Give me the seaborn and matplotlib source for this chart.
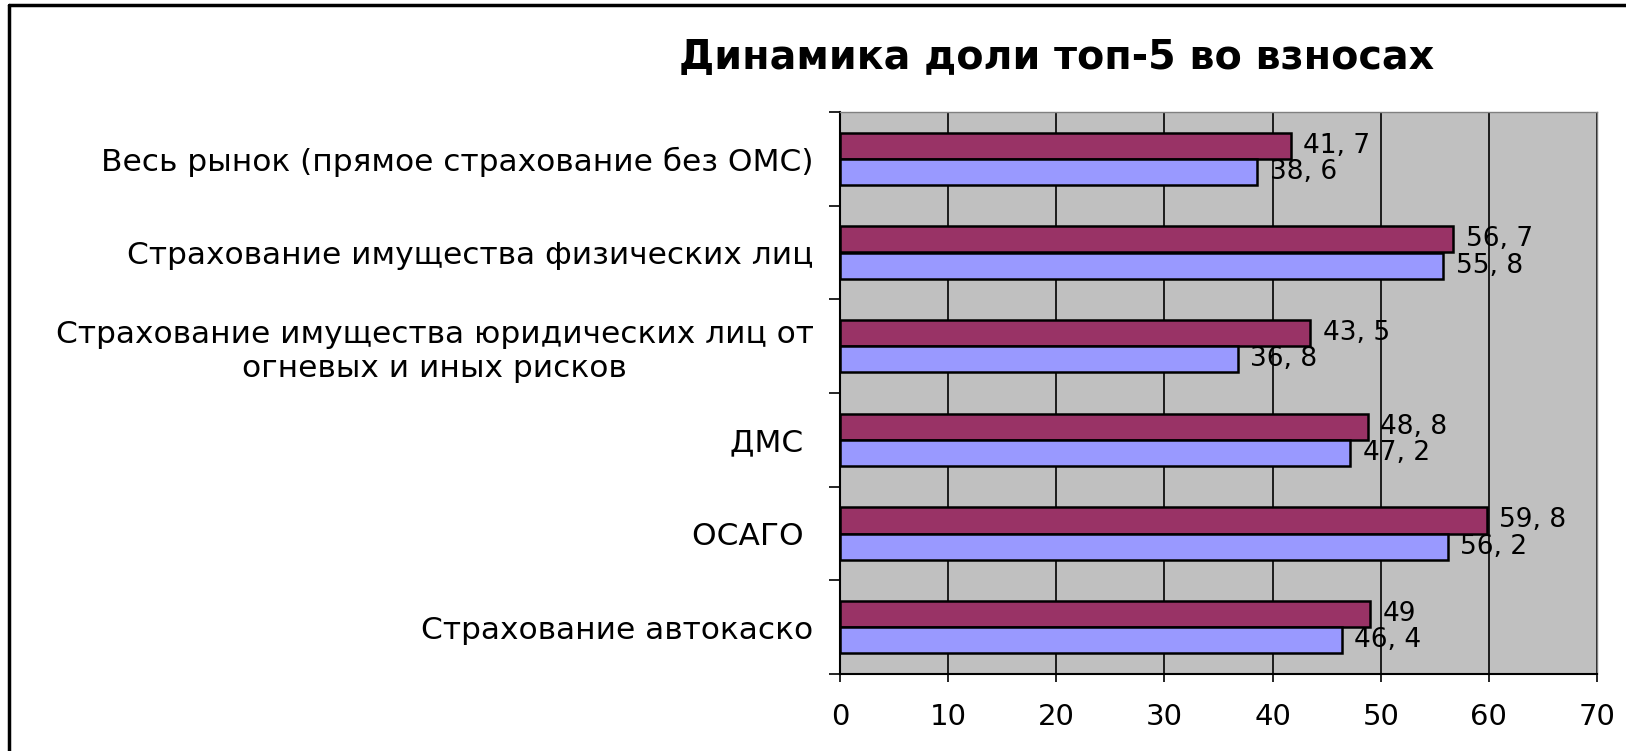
import matplotlib
matplotlib.use("Agg")
import matplotlib.pyplot as plt
import seaborn as sns
import pandas as pd
import numpy as np
from matplotlib.lines import Line2D
from matplotlib.ticker import FixedLocator

# ---- data ----
categories = [
    "Весь рынок (прямое страхование без ОМС)",
    "Страхование имущества физических лиц",
    "Страхование имущества юридических лиц от\nогневых и иных рисков",
    "ДМС ",
    "ОСАГО ",
    "Страхование автокаско",
]
series_names = ["Ряд 2", "Ряд 1"]
values_top = [41.7, 56.7, 43.5, 48.8, 59.8, 49]
values_bottom = [38.6, 55.8, 36.8, 47.2, 56.2, 46.4]
x_ticks = [0, 10, 20, 30, 40, 50, 60, 70]
title = "Динамика доли топ-5 во взносах"
colors = ["#993366", "#9999FF"]

df = pd.DataFrame({
    "category": categories * 2,
    "series": [series_names[0]] * len(categories) + [series_names[1]] * len(categories),
    "value": values_top + values_bottom,
})

sns.set_theme(style="white")
plt.rcParams["font.family"] = ["DejaVu Sans"]

W, H = 1626, 751
fig = plt.figure(figsize=(W / 100, H / 100), dpi=100)
fig.patch.set_facecolor("white")
ax = fig.add_axes([840 / W, 1 - 674 / H, (1597 - 840) / W, (674 - 112) / H])

sns.barplot(data=df, y="category", x="value", hue="series", order=categories,
            hue_order=series_names, palette=colors, saturation=1, width=0.56,
            gap=0, edgecolor="black", linewidth=1.8, legend=False, ax=ax)

ax.set_facecolor("#C0C0C0")
ax.set_xlim(x_ticks[0], x_ticks[-1])
ax.set_ylim(len(categories) - 0.5, -0.5)
ax.set_xticks(x_ticks)
ax.set_xticklabels([str(t) for t in x_ticks])
ax.xaxis.grid(True, color="black", linewidth=1.2)
ax.yaxis.grid(False)
ax.set_axisbelow(True)
ax.set_xlabel("")
ax.set_ylabel("")

# y ticks: labels at centres, tick marks at category boundaries
ax.yaxis.set_minor_locator(FixedLocator(np.arange(-0.5, len(categories), 1.0)))
ax.tick_params(axis="y", which="major", length=0, pad=19, labelsize=22.5, labelcolor="black")
ax.tick_params(axis="y", which="minor", left=True, length=8, width=1.2, color="black", direction="out")
ax.tick_params(axis="x", which="major", bottom=True, length=6, width=1.2, color="black",
               direction="out", pad=15, labelsize=21, labelcolor="black")
for lbl in ax.get_yticklabels():
    lbl.set_multialignment("center")

for side in ["left", "bottom"]:
    ax.spines[side].set_color("black")
    ax.spines[side].set_linewidth(1.5)
for side in ["top", "right"]:
    ax.spines[side].set_color("#808080")
    ax.spines[side].set_linewidth(1.0)

# value labels
all_vals = [values_top, values_bottom]
for cont, vals in zip(ax.containers, all_vals):
    ax.bar_label(cont, labels=[f"{v:g}".replace(".", ", ") for v in vals],
                 padding=9, fontsize=19, color="black")

fig.text(1057 / W, 1 - 58 / H, title, ha="center", va="center",
         fontsize=28.5, fontweight="bold", color="black")

# outer frame (top and left)
fig.add_artist(Line2D([9 / W, 9 / W], [0, 1 - 5 / H], color="black", linewidth=2.5,
                      transform=fig.transFigure))
fig.add_artist(Line2D([9 / W, 1], [1 - 5 / H, 1 - 5 / H], color="black", linewidth=2.5,
                      transform=fig.transFigure))

fig.savefig("out.png", dpi=100)
